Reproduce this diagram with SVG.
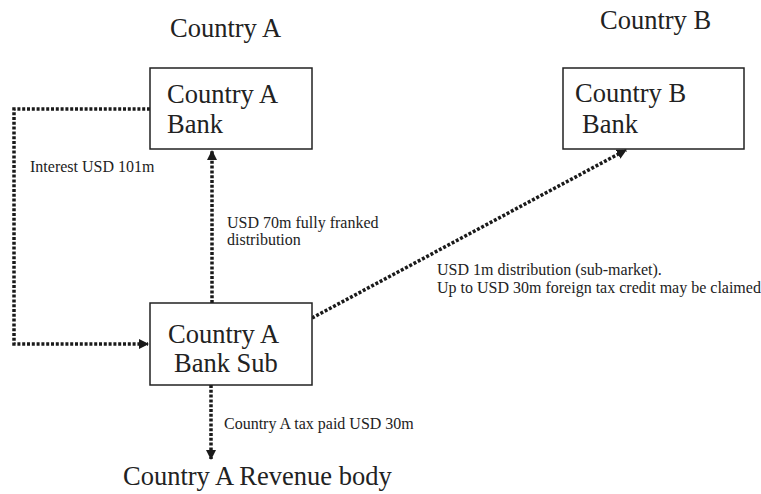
<svg xmlns="http://www.w3.org/2000/svg" width="761" height="494" viewBox="0 0 761 494">
  <style>
    .box { fill: #ffffff; stroke: #222222; stroke-width: 1.5; }
    .big { font-family: "Liberation Serif", "Times New Roman", serif; font-size: 26.5px; fill: #222222; }
    .small { font-family: "Liberation Serif", "Times New Roman", serif; font-size: 16px; fill: #222222; }
    .flow { fill: none; stroke: #1a1a1a; stroke-width: 3.5; stroke-dasharray: 3 1.8; }
  </style>
  <defs>
    <marker id="arrow" viewBox="0 0 10 10" refX="9" refY="5" markerWidth="10" markerHeight="10" markerUnits="userSpaceOnUse" orient="auto">
      <path d="M0,0 L10,5 L0,10 z" fill="#1a1a1a"/>
    </marker>
  </defs>
  <rect width="761" height="494" fill="#ffffff"/>

  <!-- country headings -->
  <text class="big" x="170" y="37">Country A</text>
  <text class="big" x="600" y="29">Country B</text>

  <!-- connectors -->
  <g id="connectors">
    <polyline class="flow" points="150,109 14,109 14,344 148,344" marker-end="url(#arrow)"/>
    <line class="flow" x1="212" y1="303" x2="212" y2="151" marker-end="url(#arrow)"/>
    <line class="flow" x1="312" y1="318" x2="626" y2="150" marker-end="url(#arrow)"/>
    <line class="flow" x1="211" y1="385" x2="211" y2="459" marker-end="url(#arrow)"/>
  </g>

  <g id="country-a-bank">
    <rect class="box" x="150" y="68" width="162" height="81"/>
    <text class="big" x="167" y="103">Country A</text>
    <text class="big" x="167" y="133">Bank</text>
  </g>

  <g id="country-b-bank">
    <rect class="box" x="563" y="68" width="181" height="81"/>
    <text class="big" x="575" y="102">Country B</text>
    <text class="big" x="582" y="133">Bank</text>
  </g>

  <g id="country-a-bank-sub">
    <rect class="box" x="150" y="303" width="162" height="82"/>
    <text class="big" x="168" y="343">Country A</text>
    <text class="big" x="174" y="372">Bank Sub</text>
  </g>

  <g id="country-a-revenue-body">
    <text class="big" x="123" y="485">Country A Revenue body</text>
  </g>

  <!-- flow labels -->
  <text class="small" x="30" y="172">Interest USD 101m</text>
  <text class="small" x="227" y="228">USD 70m fully franked</text>
  <text class="small" x="227" y="245">distribution</text>
  <text class="small" x="437" y="275">USD 1m distribution (sub-market).</text>
  <text class="small" x="437" y="293">Up to USD 30m foreign tax credit may be claimed</text>
  <text class="small" x="224" y="429">Country A tax paid USD 30m</text>
</svg>
